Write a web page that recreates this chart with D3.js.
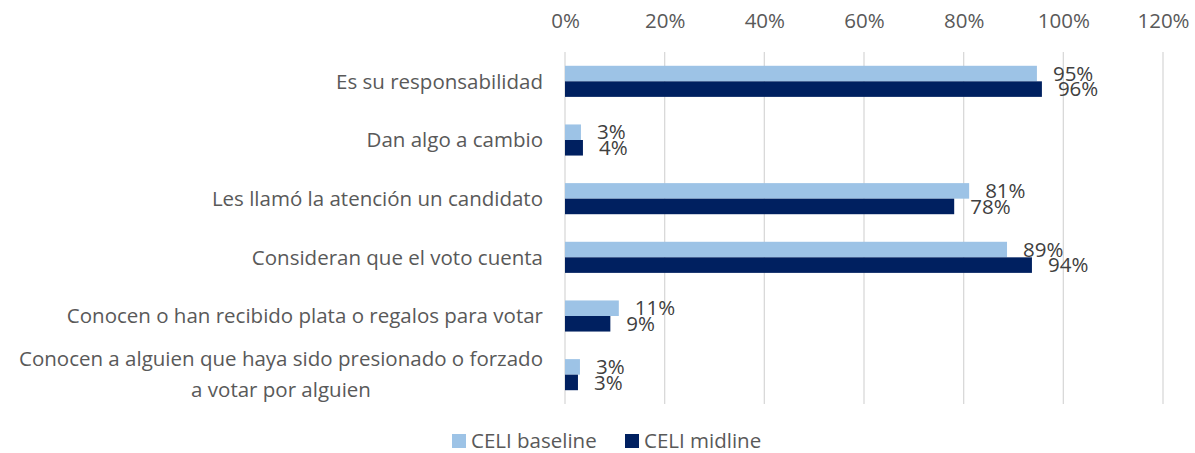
<!DOCTYPE html>
<html>
<head>
<meta charset="utf-8">
<script src="https://cdn.jsdelivr.net/npm/d3@7"></script>
<style>
  body { margin: 0; background: #fff; }
  svg text { font-family: "Open Sans", "Noto Sans", sans-serif; fill: #595959; }
</style>
</head>
<body>
<div id="chartDiv"></div>
<script>
// categories, top to bottom
var categories = [
  'Es su responsabilidad',
  'Dan algo a cambio',
  'Les llamó la atención un candidato',
  'Consideran que el voto cuenta',
  'Conocen o han recibido plata o regalos para votar',
  'Conocen a alguien que haya sido presionado o forzado\na votar por alguien'
];
var seriesNames = ['CELI baseline', 'CELI midline'];
var baseline = [0.947, 0.032, 0.811, 0.887, 0.108, 0.030];
var midline = [0.957, 0.036, 0.781, 0.937, 0.091, 0.026];
var xTicks = [0, 0.2, 0.4, 0.6, 0.8, 1.0, 1.2];
var colors = ['#9dc3e6', '#002060'];

var w = 1195, h = 453,
  padL = 565, padR = 1163,
  padT = 52, padB = 404,
  fs = '20.5px';

var svg = d3.select('#chartDiv').append('svg')
  .attr('width', w)
  .attr('height', h);

var x = d3.scaleLinear().domain([0, 1.2]).range([padL, padR]);
var y = d3.scaleBand().domain(categories).range([padT, padB])
  .paddingInner(0.47).paddingOuter(0.235);
var ySub = d3.scaleBand().domain(seriesNames).range([0, y.bandwidth()]);

// gridlines
svg.append('g').selectAll('line')
  .data(xTicks)
  .enter().append('line')
    .attr('x1', function(d) { return x(d); })
    .attr('x2', function(d) { return x(d); })
    .attr('y1', padT)
    .attr('y2', padB)
    .attr('stroke', '#d9d9d9')
    .attr('stroke-width', 1.3);

// top axis (labels only)
var xAxis = d3.axisTop(x).tickValues(xTicks).tickFormat(d3.format('.0%')).tickSize(0).tickPadding(0);
var xg = svg.append('g')
  .attr('transform', 'translate(0,28)')
  .call(xAxis);
xg.select('.domain').remove();
xg.selectAll('text')
  .attr('font-size', fs)
  .style('font-family', '"Open Sans", sans-serif')
  .attr('fill', '#595959');

// category labels
var catG = svg.append('g');
categories.forEach(function(c) {
  var lines = c.split('\n');
  var cy = y(c) + y.bandwidth() / 2;
  var t = catG.append('text')
    .attr('font-size', fs)
    .attr('text-anchor', 'end')
    .attr('x', 543);
  lines.forEach(function(l, i) {
    t.append('tspan')
      .attr('x', 543)
      .attr('y', cy + (i - (lines.length - 1) / 2) * 31)
      .attr('dy', '0.35em')
      .text(l);
  });
  if (lines.length > 1) {
    // wrapped labels are centred on the longest line
    var widths = [];
    t.selectAll('tspan').each(function() { widths.push(this.getComputedTextLength()); });
    var mid = 543 - d3.max(widths) / 2;
    t.attr('text-anchor', 'middle').selectAll('tspan').attr('x', mid);
  }
});

// bars
var series = [baseline, midline];
series.forEach(function(vals, s) {
  var g = svg.append('g');
  g.selectAll('rect')
    .data(vals)
    .enter().append('rect')
      .attr('x', x(0))
      .attr('y', function(d, i) { return y(categories[i]) + ySub(seriesNames[s]); })
      .attr('width', function(d) { return x(d) - x(0); })
      .attr('height', ySub.bandwidth())
      .attr('fill', colors[s]);

  g.selectAll('text')
    .data(vals)
    .enter().append('text')
      .attr('x', function(d) { return x(d) + 16; })
      .attr('y', function(d, i) { return y(categories[i]) + ySub(seriesNames[s]) + ySub.bandwidth() / 2; })
      .attr('dy', '0.35em')
      .attr('font-size', fs)
      .style('fill', '#404040')
      .text(function(d) { return Math.round(d * 100) + '%'; });
});

// legend
var legend = svg.append('g');
var lx = [452, 625];
seriesNames.forEach(function(n, i) {
  legend.append('rect')
    .attr('x', lx[i])
    .attr('y', 434)
    .attr('width', 14)
    .attr('height', 14)
    .attr('fill', colors[i]);
  legend.append('text')
    .attr('x', lx[i] + 19)
    .attr('y', 441)
    .attr('dy', '0.35em')
    .attr('font-size', fs)
    .text(n);
});
</script>
</body>
</html>
